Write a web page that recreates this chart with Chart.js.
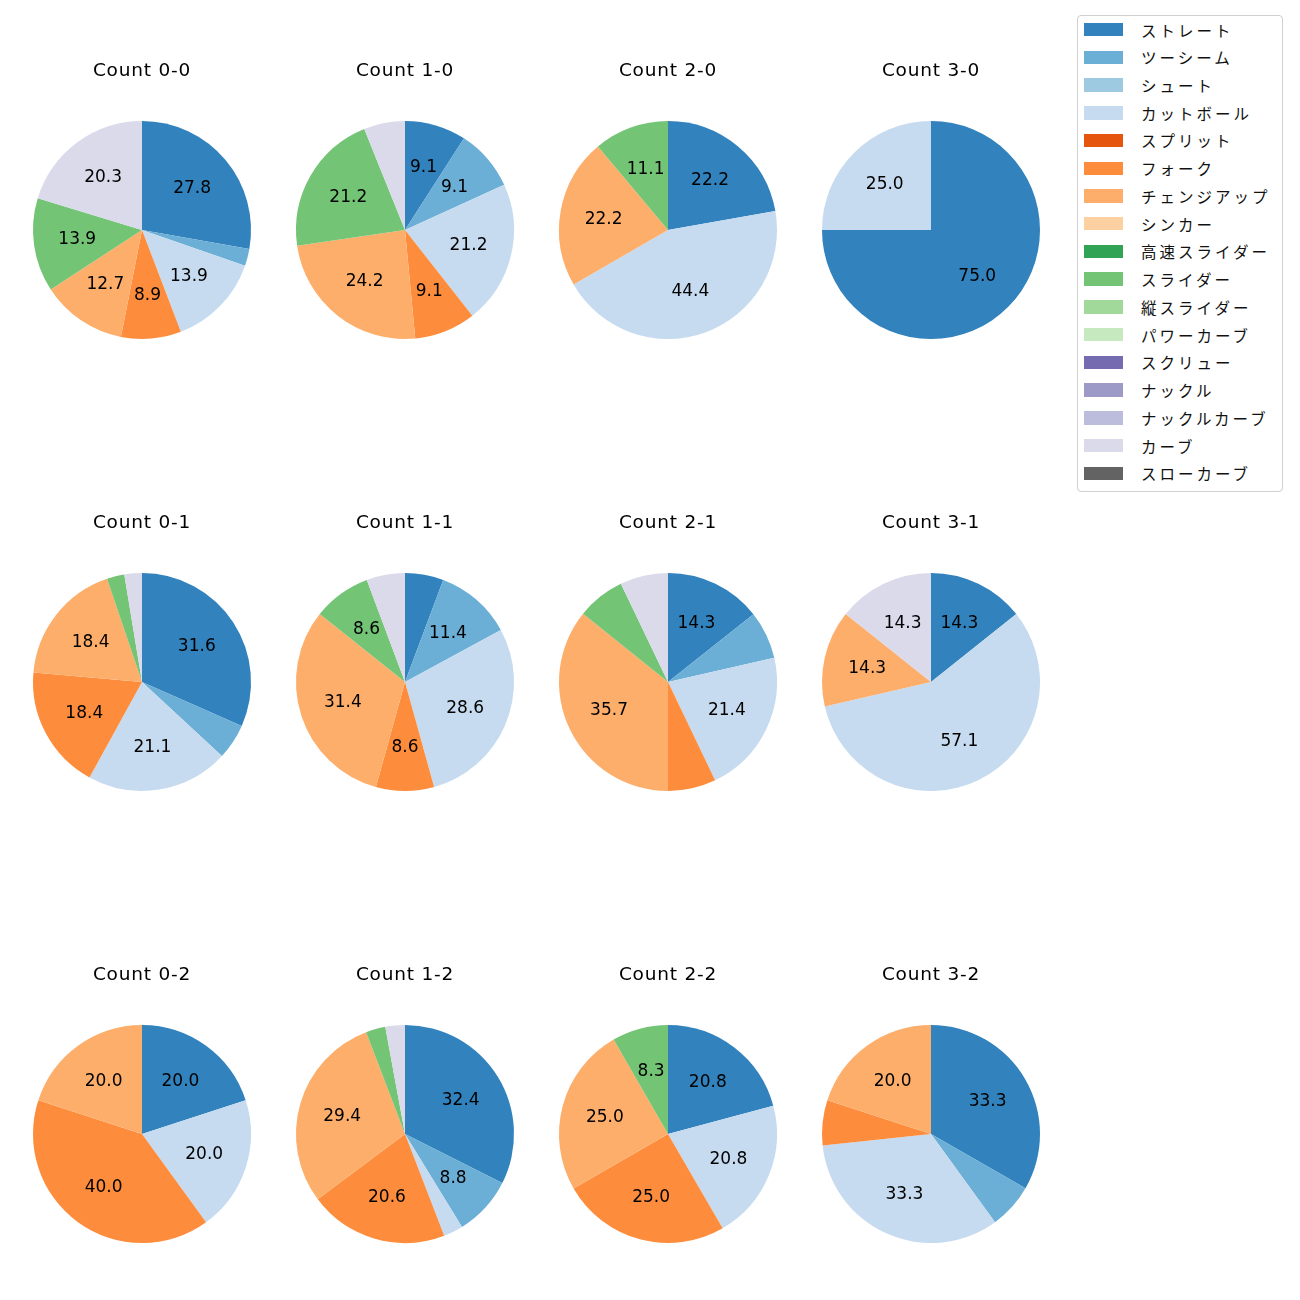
<!DOCTYPE html>
<html lang="ja">
<head>
<meta charset="utf-8">
<script src="https://cdn.jsdelivr.net/npm/chart.js@4/dist/chart.umd.min.js"></script>
<style>
  body { margin: 0; background: #fff; }
  #wrap { position: relative; width: 1300px; height: 1300px; }
  canvas { position: absolute; }
  #legend {
    position: absolute; left: 1077px; top: 15px; width: 206px; height: 477px;
    border: 1px solid #d0d0d0; border-radius: 4px; box-sizing: border-box;
  }
  .sw { position: absolute; left: 6px; width: 39px; height: 13.5px; }
  .lb { position: absolute; left: 63px; height: 20px; line-height: 20px; font-size: 15.5px; letter-spacing: 3px;
        color: #111; white-space: nowrap; font-family: "Noto Sans CJK JP", sans-serif; }
</style>
</head>
<body>
<div id="wrap"><div id="legend"></div></div>
<script>
const pitchTypes = ['ストレート', 'ツーシーム', 'シュート', 'カットボール', 'スプリット', 'フォーク', 'チェンジアップ', 'シンカー', '高速スライダー', 'スライダー', '縦スライダー', 'パワーカーブ', 'スクリュー', 'ナックル', 'ナックルカーブ', 'カーブ', 'スローカーブ'];
const pitchColors = ['#3182bd', '#6baed6', '#9ecae1', '#c6dbef', '#e6550d', '#fd8d3c', '#fdae6b', '#fdd0a2', '#31a354', '#74c476', '#a1d99b', '#c7e9c0', '#756bb1', '#9e9ac8', '#bcbddc', '#dadaeb', '#636363'];

const countTitles = ['Count 0-0', 'Count 1-0', 'Count 2-0', 'Count 3-0',
                     'Count 0-1', 'Count 1-1', 'Count 2-1', 'Count 3-1',
                     'Count 0-2', 'Count 1-2', 'Count 2-2', 'Count 3-2'];

// percentages per pitch type, same order as pitchTypes
const c00 = [27.8, 2.5, 0, 13.9, 0, 8.9, 12.7, 0, 0, 13.9, 0, 0, 0, 0, 0, 20.3, 0];
const c10 = [9.1, 9.1, 0, 21.2, 0, 9.1, 24.2, 0, 0, 21.2, 0, 0, 0, 0, 0, 6.1, 0];
const c20 = [22.2, 0, 0, 44.4, 0, 0, 22.2, 0, 0, 11.1, 0, 0, 0, 0, 0, 0, 0];
const c30 = [75.0, 0, 0, 25.0, 0, 0, 0, 0, 0, 0, 0, 0, 0, 0, 0, 0, 0];
const c01 = [31.6, 5.3, 0, 21.1, 0, 18.4, 18.4, 0, 0, 2.6, 0, 0, 0, 0, 0, 2.6, 0];
const c11 = [5.7, 11.4, 0, 28.6, 0, 8.6, 31.4, 0, 0, 8.6, 0, 0, 0, 0, 0, 5.7, 0];
const c21 = [14.3, 7.1, 0, 21.4, 0, 7.1, 35.7, 0, 0, 7.1, 0, 0, 0, 0, 0, 7.1, 0];
const c31 = [14.3, 0, 0, 57.1, 0, 0, 14.3, 0, 0, 0, 0, 0, 0, 0, 0, 14.3, 0];
const c02 = [20.0, 0, 0, 20.0, 0, 40.0, 20.0, 0, 0, 0, 0, 0, 0, 0, 0, 0, 0];
const c12 = [32.4, 8.8, 0, 2.9, 0, 20.6, 29.4, 0, 0, 2.9, 0, 0, 0, 0, 0, 2.9, 0];
const c22 = [20.8, 0, 0, 20.8, 0, 25.0, 25.0, 0, 0, 8.3, 0, 0, 0, 0, 0, 0, 0];
const c32 = [33.3, 6.7, 0, 33.3, 0, 6.7, 20.0, 0, 0, 0, 0, 0, 0, 0, 0, 0, 0];
const countData = [c00, c10, c20, c30, c01, c11, c21, c31, c02, c12, c22, c32];

const FONT = '"DejaVu Sans", sans-serif';
const colX = [141.5, 404.5, 667.5, 930.5];
const rowY = [229.5, 681.5, 1133.5];
const R = 109;

// legend
const legend = document.getElementById('legend');
pitchTypes.forEach((name, i) => {
    const cyRow = 29.5 + 27.74 * i - 15;
    const sw = document.createElement('div');
    sw.className = 'sw';
    sw.style.background = pitchColors[i];
    sw.style.top = (cyRow - 7.7) + 'px';
    const lb = document.createElement('div');
    lb.className = 'lb';
    lb.style.top = (cyRow - 11) + 'px';
    lb.textContent = name;
    legend.appendChild(sw);
    legend.appendChild(lb);
});

// draws the title and the percentage labels
const pieText = {
    id: 'pieText',
    afterDatasetsDraw(chart, args, opts) {
        const ctx = chart.ctx;
        ctx.save();
        ctx.fillStyle = '#000';
        ctx.textAlign = 'center';
        ctx.textBaseline = 'alphabetic';
        ctx.font = '18.5px ' + FONT;
        ctx.letterSpacing = '0.8px';
        ctx.fillText(opts.title, chart.width / 2, 36.5);

        ctx.letterSpacing = '0px';
        ctx.font = '17px ' + FONT;
        const vals = chart.data.datasets[0].data;
        chart.getDatasetMeta(0).data.forEach((arc, i) => {
            if (vals[i] < 8) return;
            const p = arc.getProps(['x', 'y', 'startAngle', 'endAngle', 'outerRadius']);
            const mid = (p.startAngle + p.endAngle) / 2;
            const r = p.outerRadius * 0.6;
            ctx.fillText(vals[i].toFixed(1), p.x + Math.cos(mid) * r, p.y + Math.sin(mid) * r + 5);
        });
        ctx.restore();
    }
};

const wrap = document.getElementById('wrap');
countData.forEach((vals, k) => {
    const cx = colX[k % 4];
    const cy = rowY[Math.floor(k / 4)];
    const cv = document.createElement('canvas');
    cv.width = 2 * (R + 22);
    cv.height = 2 * (R + 22) + 60;
    cv.style.left = (cx - R - 22) + 'px';
    cv.style.top = (cy - R - 82) + 'px';
    wrap.appendChild(cv);

    new Chart(cv, {
        type: 'pie',
        data: {
            labels: pitchTypes,
            datasets: [{
                data: vals,
                backgroundColor: pitchColors,
                borderWidth: 0
            }]
        },
        options: {
            responsive: false,
            animation: false,
            devicePixelRatio: 1,
            layout: { padding: { top: 82, left: 22, right: 22, bottom: 22 } },
            plugins: {
                legend: { display: false },
                tooltip: { enabled: false },
                pieText: { title: countTitles[k] }
            }
        },
        plugins: [pieText]
    });
});
</script>
</body>
</html>
